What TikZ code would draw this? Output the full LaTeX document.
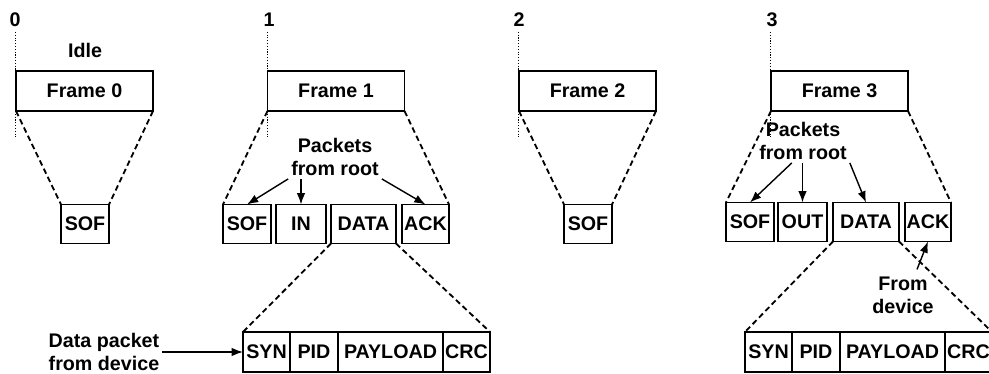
\documentclass[tikz,border=0pt]{standalone}
\usepackage{fontspec}
\setmainfont{Liberation Sans}
\usetikzlibrary{positioning, arrows.meta}

\begin{document}
\begin{tikzpicture}[
x=0.025cm, y=-0.025cm,
every node/.style = {font=\fontsize{14}{16.5}\selectfont\bfseries},
box/.style = {draw, line width=1.1pt, inner sep=0pt, outer sep=0pt, minimum height=0.975cm},
frame box/.style = {box, minimum width=3.425cm, minimum height=1cm},
field/.style = {box, minimum height=1cm},
note/.style = {align=center, inner sep=2pt},
zoom line/.style = {line width=1.3pt, dash pattern=on 4pt off 2.5pt},
tick/.style = {line width=0.7pt, dash pattern=on 0.8pt off 1.2pt},
pointer/.style = {-{Latex[length=8pt,width=6pt]}, line width=1pt}
]

\clip (0,0) rectangle (989,374);

% frames on the time line
\node (frame0) at (84.5,91) [frame box] {Frame 0};
\node (frame1) at (336,91) [frame box] {Frame 1};
\node (frame2) at (587.5,91) [frame box] {Frame 2};
\node (frame3) at (839.5,91) [frame box] {Frame 3};

\node (t0) at (15,20) {0};
\node (t1) at (269,20) {1};
\node (t2) at (519,20) {2};
\node (t3) at (772,20) {3};

\node (idle) at (85,50) {Idle};

\draw[tick] (frame0.north west |- t0.south) -- (frame0.north west);
\draw[tick] (frame1.north west |- t1.south) -- (frame1.north west);
\draw[tick] (frame2.north west |- t2.south) -- (frame2.north west);
\draw[tick] (frame3.north west |- t3.south) -- (frame3.north west);

\draw[tick] (frame0.south west) -- ++(0,26);
\draw[tick] (frame1.south west) -- ++(0,26);
\draw[tick] (frame2.south west) -- ++(0,26);
\draw[tick] (frame3.south west) -- ++(0,26);

% idle frames
\node (sof0) at (85,224) [box, minimum width=1.2cm] {SOF};
\node (sof2) at (588,224) [box, minimum width=1.2cm] {SOF};

\draw[zoom line] (frame0.south west) -- (sof0.north west);
\draw[zoom line] (frame0.south east) -- (sof0.north east);
\draw[zoom line] (frame2.south west) -- (sof2.north west);
\draw[zoom line] (frame2.south east) -- (sof2.north east);

% frame 1: IN transaction
\node (sof1) at (247,224) [box, minimum width=1.2cm] {SOF};
\node (in1) at (301,224) [box, minimum width=1.25cm] {IN};
\node (data1) at (363.5,224) [box, minimum width=1.625cm] {DATA};
\node (ack1) at (425.5,224) [box, minimum width=1.175cm] {ACK};

\draw[zoom line] (frame1.south west) -- (sof1.north west);
\draw[zoom line] (frame1.south east) -- (ack1.north east);

\node (from1) at (335,157) [note] {Packets\\from root};
\draw[pointer] (from1.south west) -- (sof1.north);
\draw[pointer] (from1.south -| in1.north) -- (in1.north);
\draw[pointer] (from1.south east) -- (ack1.north);

\node (syn1) at (266.5,352) [field, minimum width=1.175cm] {SYN};
\node (pid1) [field, minimum width=1.2cm, right=0pt of syn1] {PID};
\node (load1) [field, minimum width=2.625cm, right=0pt of pid1] {PAYLOAD};
\node (crc1) [field, minimum width=1.175cm, right=0pt of load1] {CRC};

\draw[zoom line] (data1.south west) -- (syn1.north west);
\draw[zoom line] (data1.south east) -- (crc1.north east);

\node (dpk) at (104,352) [note] {Data packet\\from device};
\draw[pointer] (dpk.east) -- (syn1.west);

% frame 3: OUT transaction
\node (sof3) at (750,222) [box, minimum width=1.2cm] {SOF};
\node (out3) at (802.5,222) [box, minimum width=1.225cm] {OUT};
\node (data3) at (866,222) [box, minimum width=1.65cm] {DATA};
\node (ack3) at (928,222) [box, minimum width=1.15cm] {ACK};

\draw[zoom line] (frame3.south west) -- (sof3.north west);
\draw[zoom line] (frame3.south east) -- (ack3.north east);

\node (from3) at (803,141) [note] {Packets\\from root};
\draw[pointer] ([xshift=-0.28cm]from3.south) -- (sof3.north);
\draw[pointer] (from3.south -| out3.north) -- (out3.north);
\draw[pointer] (from3.south east) -- (data3.north);

\node (syn3) at (768.5,352) [field, minimum width=1.175cm] {SYN};
\node (pid3) [field, minimum width=1.2cm, right=0pt of syn3] {PID};
\node (load3) [field, minimum width=2.625cm, right=0pt of pid3] {PAYLOAD};
\node (crc3) [field, minimum width=1.175cm, right=0pt of load3] {CRC};

\draw[zoom line] (data3.south west) -- (syn3.north west);
\draw[zoom line] (data3.south east) -- (crc3.north east);

\node (dev3) at (903,295) [note] {From\\device};
\draw[pointer] ([xshift=0.35cm, yshift=0.1cm]dev3.north) -- (ack3.south);
\end{tikzpicture}
\end{document}
